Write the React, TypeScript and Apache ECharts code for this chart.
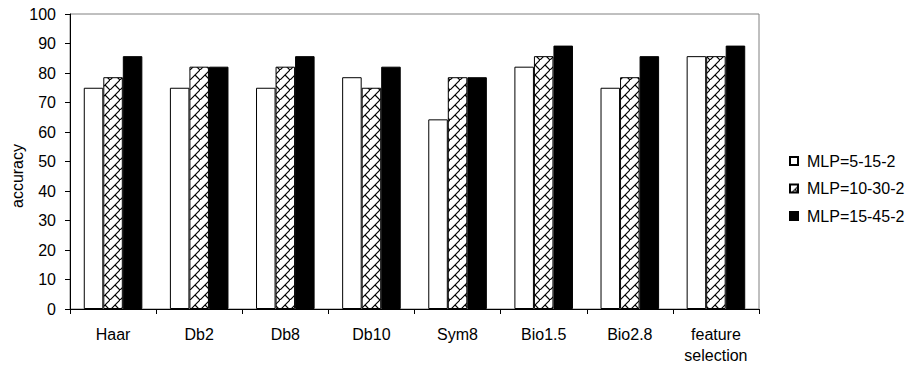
import React, { useEffect, useRef } from "react";
import * as echarts from "echarts";

const categories = ["Haar", "Db2", "Db8", "Db10", "Sym8", "Bio1.5", "Bio2.8", "feature\nselection"];
const seriesNames = ["MLP=5-15-2", "MLP=10-30-2", "MLP=15-45-2"];
const mlp5 = [75, 75, 75, 78.57, 64.29, 82.14, 75, 85.71];
const mlp10 = [78.57, 82.14, 82.14, 75, 78.57, 85.71, 78.57, 85.71];
const mlp15 = [85.71, 82.14, 85.71, 82.14, 78.57, 89.29, 85.71, 89.29];
const yTicks = { min: 0, max: 100, interval: 10 };

const FONT = "'Liberation Sans', Arial, sans-serif";

const tileSvg =
  '<svg xmlns="http://www.w3.org/2000/svg" width="10" height="10" viewBox="0 0 10 10">' +
  '<rect width="10" height="10" fill="#fff"/>' +
  '<path d="M-1 11 L11 -1 M5 5 L11 11" stroke="#000" stroke-width="1.2" fill="none"/>' +
  "</svg>";
const tileUrl = "data:image/svg+xml;base64," + btoa(tileSvg);

export default function App() {
  const ref = useRef<HTMLDivElement>(null);
  useEffect(() => {
    if (!ref.current) return;
    const chart = echarts.init(ref.current, null, { renderer: "svg" });
    const hatch: any = { image: tileUrl, repeat: "repeat", imageWidth: 10, imageHeight: 10 };
    chart.setOption({
      animation: false,
      backgroundColor: "#fff",
      textStyle: { fontFamily: FONT, color: "#000" },
      grid: {
        left: 70,
        top: 14,
        right: 149,
        bottom: 60,
        show: true,
        borderColor: "#808080",
        borderWidth: 1,
        backgroundColor: "transparent",
      },
      legend: {
        orient: "vertical",
        left: 784,
        top: 147,
        itemWidth: 8,
        itemHeight: 8,
        itemGap: 9.5,
        selectedMode: false,
        textStyle: { fontSize: 16, color: "#000", fontFamily: FONT, lineHeight: 18, padding: [0, 0, 0, 4] },
        data: seriesNames.map((n) => ({ name: n, icon: "rect" })),
      },
      xAxis: {
        type: "category",
        data: categories,
        axisLine: { lineStyle: { color: "#000", width: 1 } },
        axisTick: { show: true, length: 5, lineStyle: { color: "#000" } },
        axisLabel: { fontSize: 16, color: "#000", fontFamily: FONT, margin: 15, lineHeight: 21, interval: 0 },
      },
      yAxis: {
        type: "value",
        min: yTicks.min,
        max: yTicks.max,
        interval: yTicks.interval,
        axisLine: { show: true, lineStyle: { color: "#000", width: 1 } },
        axisTick: { show: true, length: 5, lineStyle: { color: "#000" } },
        splitLine: { show: false },
        axisLabel: { fontSize: 16, color: "#000", fontFamily: FONT, margin: 14 },
      },
      graphic: [
        {
          type: "text",
          x: 17,
          y: 176,
          rotation: Math.PI / 2,
          style: {
            text: "accuracy",
            fontSize: 16,
            fontFamily: FONT,
            fill: "#000",
            align: "center",
            verticalAlign: "middle",
          },
        },
      ],
      series: [
        {
          name: seriesNames[0],
          type: "bar",
          data: mlp5,
          barGap: "0%",
          barCategoryGap: "32%",
          itemStyle: { color: "#fff", borderColor: "#000", borderWidth: 1 },
        },
        {
          name: seriesNames[1],
          type: "bar",
          data: mlp10,
          barGap: "0%",
          barCategoryGap: "32%",
          itemStyle: { color: hatch, borderColor: "#000", borderWidth: 1 },
        },
        {
          name: seriesNames[2],
          type: "bar",
          data: mlp15,
          barGap: "0%",
          barCategoryGap: "32%",
          itemStyle: { color: "#000", borderColor: "#000", borderWidth: 1 },
        },
      ],
    });
    return () => chart.dispose();
  }, []);
  return <div ref={ref} style={{ position: "fixed", left: 0, top: 0, width: 908, height: 369 }} />;
}
